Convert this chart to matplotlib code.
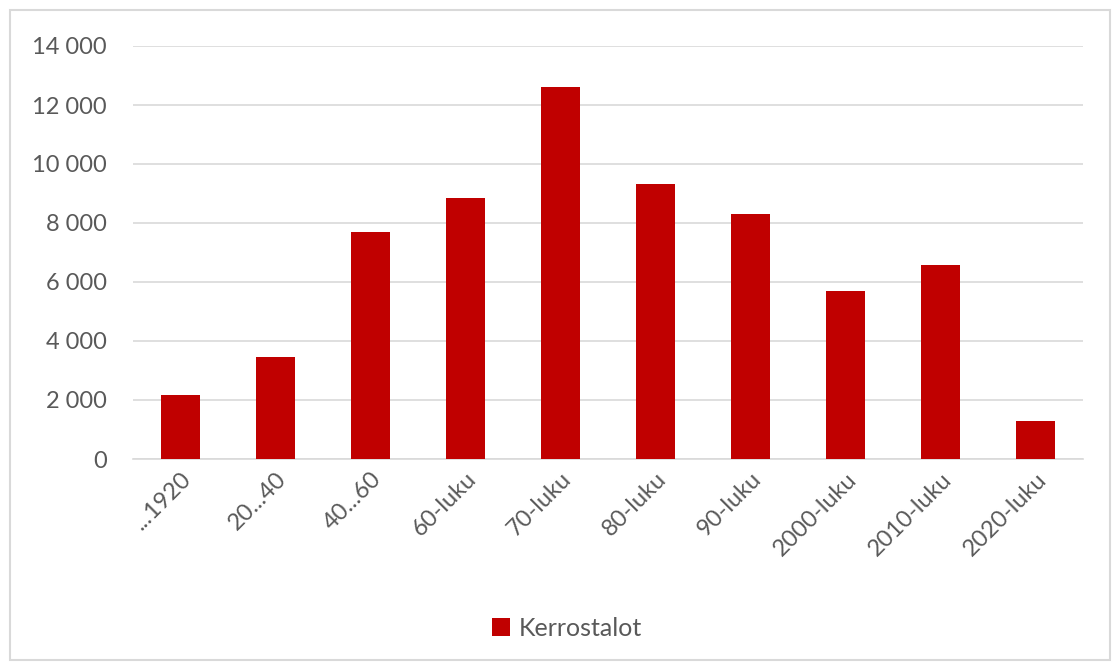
import matplotlib.pyplot as plt
from matplotlib.patches import Rectangle
from matplotlib.ticker import FuncFormatter

categories = ['...1920', '20...40', '40...60', '60-luku', '70-luku', '80-luku',
              '90-luku', '2000-luku', '2010-luku', '2020-luku']
kerrostalot = [2180, 3450, 7700, 8850, 12600, 9320, 8300, 5700, 6580, 1290]
yticks = [0, 2000, 4000, 6000, 8000, 10000, 12000, 14000]

plt.rcParams['font.family'] = ['Lato', 'DejaVu Sans']
text_col = '#595959'
bar_col = '#C00000'

fig = plt.figure(figsize=(11.16, 6.66), dpi=100)
# outer chart border
fig.patches.append(Rectangle((10 / 1116, 6 / 666), 1100 / 1116, 650 / 666,
                             transform=fig.transFigure, fill=False,
                             edgecolor='#d9d9d9', linewidth=1.5))

ax = fig.add_axes([133 / 1116, 1 - 459 / 666, 950 / 1116, 413 / 666])
x = range(len(categories))
ax.bar(x, kerrostalot, width=0.42, color=bar_col, label='Kerrostalot', zorder=3)

ax.set_xlim(-0.5, len(categories) - 0.5)
ax.set_ylim(0, 14000)
ax.set_yticks(yticks)
ax.yaxis.set_major_formatter(FuncFormatter(lambda v, p: f'{int(v):,}'.replace(',', ' ')))
ax.grid(axis='y', color='#d9d9d9', linewidth=1.2, zorder=0)
for s in ['top', 'right', 'left']:
    ax.spines[s].set_visible(False)
ax.spines['bottom'].set_color('#d9d9d9')
ax.spines['bottom'].set_linewidth(1.2)
ax.tick_params(axis='both', length=0, colors=text_col, labelsize=17)
ax.tick_params(axis='y', pad=19)
ax.set_xticks(list(x))
ax.set_xticklabels(categories, rotation=45, ha='right', rotation_mode='anchor')
ax.tick_params(axis='x', pad=7)

leg = fig.legend(loc='center', bbox_to_anchor=(567 / 1116, 1 - 628 / 666), frameon=False,
                 fontsize=18, handlelength=0.75, handleheight=0.75, handletextpad=0.35)
for t in leg.get_texts():
    t.set_color(text_col)

fig.savefig('out.png', dpi=100)
